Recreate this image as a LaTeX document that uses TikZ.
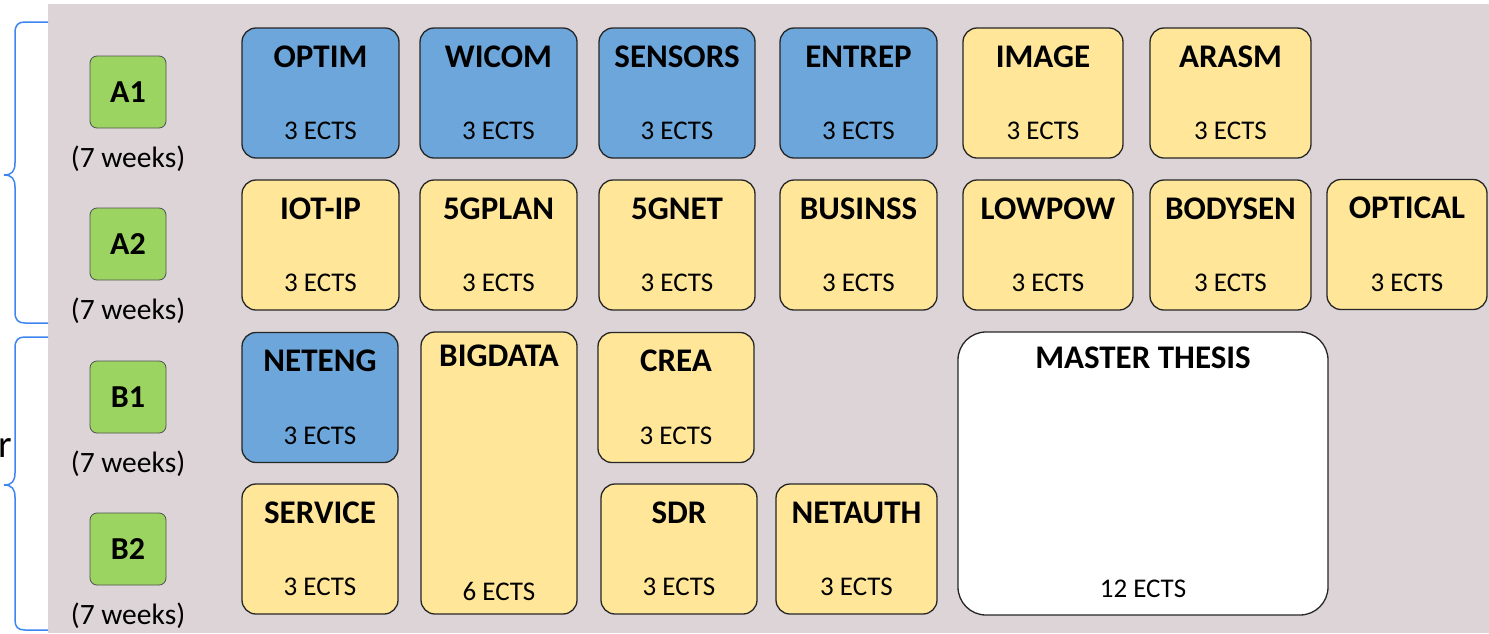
\documentclass[tikz,border=0pt]{standalone}
\usepackage{fontspec}
\setmainfont{Carlito}

\definecolor{bgpink}{HTML}{DCD4D6}
\definecolor{modblue}{HTML}{6CA6DA}
\definecolor{modyellow}{HTML}{FFE699}
\definecolor{perigreen}{HTML}{9CD461}
\definecolor{bracblue}{HTML}{3D85F0}
\definecolor{edgegray}{HTML}{262626}

\begin{document}
\begin{tikzpicture}[x=1pt,y=-1pt]
                \tikzstyle{module}=[draw=edgegray,line width=1.3pt,rounded corners=14pt,inner sep=0pt]
                \tikzstyle{title}=[anchor=base,font=\bfseries\fontsize{33}{36}\selectfont]
                \tikzstyle{ects}=[anchor=base,font=\fontsize{27}{30}\selectfont]
                \tikzstyle{period}=[draw=edgegray!80,fill=perigreen,line width=0.8pt,rounded corners=7pt,
                    minimum width=76pt,minimum height=72pt,inner sep=0pt,font=\bfseries\fontsize{32}{34}\selectfont]
                \tikzstyle{weeks}=[anchor=base,font=\fontsize{29.5}{32}\selectfont]
                \useasboundingbox (0,0) rectangle (1489,633);
                \fill[bgpink] (48,4) rectangle (1489,633);
                % braces
                \draw[bracblue,line width=1.5pt] (48,22) -- (25,22) .. controls (18,22) and (15,25) .. (15,33)
                    -- (15,163) .. controls (15,171) and (12,175) .. (4,175) .. controls (12,175) and (15,179) .. (15,187)
                    -- (15,312) .. controls (15,320) and (18,323) .. (25,323) -- (48,323);
                \draw[bracblue,line width=1.5pt] (48,337) -- (25,337) .. controls (18,337) and (15,340) .. (15,348)
                    -- (15,473) .. controls (15,481) and (12,485) .. (4,485) .. controls (12,485) and (15,489) .. (15,497)
                    -- (15,620) .. controls (15,627) and (18,630) .. (25,630) -- (48,630);
                \node[anchor=base west,inner sep=0pt,font=\fontsize{39}{42}\selectfont] (yr) at (-2,457) {r};
                % periods
                \foreach \p/\y in {A1/92,A2/244,B1/397,B2/549}
                    {
                        \node[period] (per\p) at (128,\y) {\p};
                        \node[weeks] (wk\p) at (128,\y+75) {(7 weeks)};
                    }
                % 3 ECTS modules
                \foreach \name/\cx/\cy/\w/\c/\ttl in {
                        optim/320.5/93/157/modblue/OPTIM, wicom/498.5/93/157/modblue/WICOM,
                        sensors/677/93/156/modblue/SENSORS, entrep/858.5/93/157/modblue/ENTREP,
                        image/1043/93/160/modyellow/IMAGE, arasm/1230.5/93/161/modyellow/ARASM,
                        iotip/320.5/245/157/modyellow/IOT-IP, plan5g/498.5/245/157/modyellow/5GPLAN,
                        net5g/677/245/156/modyellow/5GNET, businss/858.5/245/157/modyellow/BUSINSS,
                        lowpow/1048/245/170/modyellow/LOWPOW, bodysen/1230.5/245/161/modyellow/BODYSEN,
                        optical/1407/244.5/160/modyellow/OPTICAL,
                        neteng/320/397.5/156/modblue/NETENG, crea/676/397.5/156/modyellow/CREA,
                        service/320/549/156/modyellow/SERVICE, sdr/679/549/156/modyellow/SDR,
                        netauth/856.5/549/161/modyellow/NETAUTH}
                    {
                        \node[module,fill=\c,minimum width=\w pt,minimum height=130pt] (\name) at (\cx,\cy) {};
                        \node[title] (\name-t) at ([yshift=-40pt]\name.north) {\ttl};
                        \node[ects] (\name-e) at ([yshift=19pt]\name.south) {3 ECTS};
                    }
                % long modules
                \node[module,fill=modyellow,minimum width=156pt,minimum height=282pt] (bigdata) at (499,473) {};
                \node[title] (bigdata-t) at ([yshift=-35pt]bigdata.north) {BIGDATA};
                \node[ects] (bigdata-e) at ([yshift=14pt]bigdata.south) {6 ECTS};
                \node[module,fill=white,rounded corners=28pt,minimum width=370pt,minimum height=283pt] (thesis) at (1143,473.5) {};
                \node[title] (thesis-t) at ([yshift=-37pt]thesis.north) {MASTER THESIS};
                \node[ects] (thesis-e) at ([yshift=18pt]thesis.south) {12 ECTS};
            \end{tikzpicture}
\end{document}
